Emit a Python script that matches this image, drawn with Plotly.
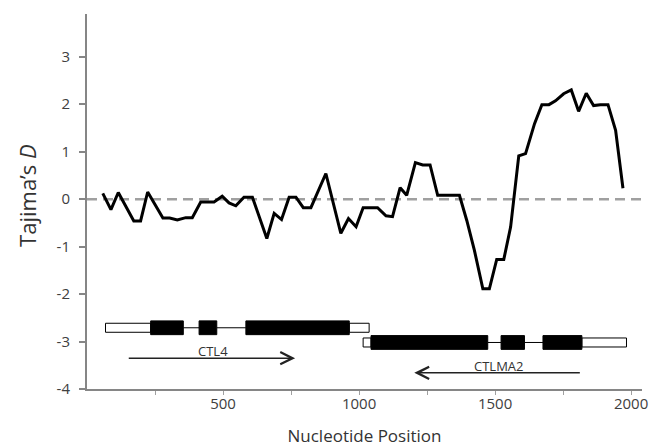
import plotly.graph_objects as go

# Sliding-window Tajima's D
positions = [58, 88, 115, 172, 197, 223, 279, 304, 332, 363, 387, 418, 442, 467, 497,
             522, 547, 577, 608, 661, 688, 715, 743, 768, 795, 823, 878, 933, 961, 989,
             1015, 1068, 1099, 1123, 1151, 1175, 1207, 1234, 1261, 1289, 1320, 1369,
             1396, 1424, 1455, 1479, 1506, 1532, 1557, 1587, 1612, 1645, 1672, 1698,
             1722, 1752, 1780, 1807, 1835, 1862, 1887, 1915, 1943, 1970]
tajima_d = [0.12, -0.22, 0.14, -0.46, -0.46, 0.15, -0.40, -0.40, -0.44, -0.39, -0.39,
            -0.06, -0.06, -0.06, 0.06, -0.08, -0.14, 0.04, 0.04, -0.83, -0.30, -0.43,
            0.04, 0.04, -0.18, -0.18, 0.54, -0.72, -0.41, -0.58, -0.18, -0.18, -0.35,
            -0.37, 0.24, 0.08, 0.77, 0.72, 0.72, 0.08, 0.08, 0.08, -0.45, -1.08, -1.89,
            -1.89, -1.27, -1.27, -0.59, 0.91, 0.96, 1.59, 1.99, 1.99, 2.07, 2.22, 2.30,
            1.85, 2.23, 1.97, 1.99, 1.99, 1.45, 0.23]

# Gene models
genes = ["CTL4", "CTLMA2"]
gene_start = [68, 1015]
gene_end = [1037, 1983]
gene_row_y = [-2.71, -3.02]
exon_gene = [0, 0, 0, 1, 1, 1]
exon_start = [234, 412, 584, 1044, 1522, 1676]
exon_end = [354, 477, 964, 1473, 1608, 1819]
arrow_from = [148, 1817]
arrow_to = [765, 1203]
arrow_y = [-3.35, -3.66]
label_x = [464, 1512]
label_y = [-3.19, -3.52]

x_tickvals = [250, 500, 750, 1000, 1250, 1500, 1750, 2000]
x_ticktext = ["", "500", "", "1000", "", "1500", "", "2000"]
y_tickvals = [-4, -3, -2, -1, 0, 1, 2, 3]
y_ticktext = ["-4", "-3", "-2", "-1", "0", "1", "2", "3"]

FONT = "Open Sans"
TXT = "#404040"
AX = "#868686"

fig = go.Figure()
fig.add_trace(go.Scatter(x=positions, y=tajima_d, mode="lines",
                         line=dict(color="black", width=3), showlegend=False,
                         hoverinfo="skip"))

shapes = []
# zero reference line
shapes.append(dict(type="line", xref="paper", yref="y", x0=0, x1=1, y0=0, y1=0,
                   line=dict(color="#a0a0a0", width=2.5, dash="10px,6px"), layer="below"))
WH = 0.095  # half-height of UTR box
BH = 0.145  # half-height of exon box
for g in range(len(genes)):
    yc = gene_row_y[g]
    ex = [i for i in range(len(exon_start)) if exon_gene[i] == g]
    # UTRs (open boxes)
    shapes.append(dict(type="rect", xref="x", yref="y", x0=gene_start[g], x1=exon_start[ex[0]],
                       y0=yc - WH, y1=yc + WH, fillcolor="white",
                       line=dict(color="black", width=1)))
    shapes.append(dict(type="rect", xref="x", yref="y", x0=exon_end[ex[-1]], x1=gene_end[g],
                       y0=yc - WH, y1=yc + WH, fillcolor="white",
                       line=dict(color="black", width=1)))
    # introns as thin lines
    for a, b in zip(ex[:-1], ex[1:]):
        shapes.append(dict(type="line", xref="x", yref="y", x0=exon_end[a], x1=exon_start[b],
                           y0=yc, y1=yc, line=dict(color="black", width=1)))
    for i in ex:
        shapes.append(dict(type="rect", xref="x", yref="y", x0=exon_start[i], x1=exon_end[i],
                           y0=yc - BH, y1=yc + BH, fillcolor="black",
                           line=dict(color="black", width=1)))

annotations = []
for g in range(len(genes)):
    annotations.append(dict(x=arrow_to[g], y=arrow_y[g], ax=arrow_from[g], ay=arrow_y[g],
                            xref="x", yref="y", axref="x", ayref="y", text="",
                            showarrow=True, arrowhead=5, arrowsize=1.6, arrowwidth=1.5,
                            arrowcolor="#222222", standoff=0, startstandoff=0))
    annotations.append(dict(x=label_x[g], y=label_y[g], xref="x", yref="y", text=genes[g],
                            showarrow=False, font=dict(family=FONT, size=13, color="#333333")))

annotations.append(dict(x=-0.108, y=0.515, xref="paper", yref="paper", xanchor="center",
                        yanchor="middle", text="Tajima’s <i>D</i>", textangle=-90,
                        showarrow=False, font=dict(family=FONT, size=22, color="#333333")))

# the page body adds an 8px offset; margins compensate for it
fig.update_layout(
    width=665, height=447,
    margin=dict(l=79, r=31, t=6, b=66),
    paper_bgcolor="white", plot_bgcolor="white",
    shapes=shapes, annotations=annotations,
    font=dict(family=FONT, color=TXT),
    xaxis=dict(range=[0, 2040], showgrid=False, zeroline=False, showline=True,
               linecolor=AX, linewidth=2, ticks="outside", ticklen=4, tickwidth=1,
               tickcolor="#a0a0a0", tickvals=x_tickvals, ticktext=x_ticktext,
               ticklabelstandoff=-4,
               tickfont=dict(family=FONT, size=15, color=TXT),
               title=dict(text="Nucleotide Position", standoff=18,
                          font=dict(family=FONT, size=17, color="#333333"))),
    yaxis=dict(range=[-4, 3.9], showgrid=False, zeroline=False, showline=True,
               linecolor=AX, linewidth=2, ticks="outside", ticklen=6, tickwidth=1.5,
               tickcolor=AX, tickvals=y_tickvals, ticktext=y_ticktext,
               ticklabelstandoff=6,
               tickfont=dict(family=FONT, size=15, color=TXT)),
)
fig.write_html("out.html")
